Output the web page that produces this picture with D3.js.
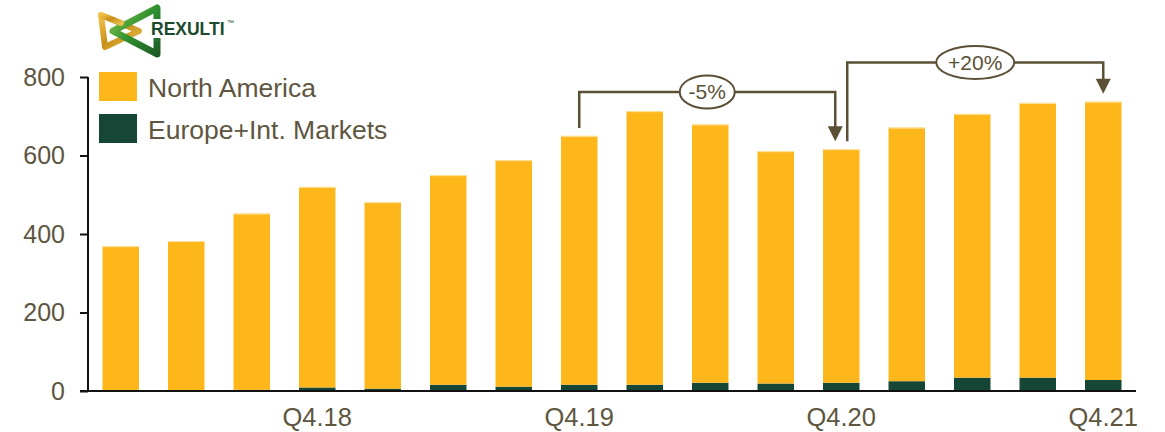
<!DOCTYPE html>
<html>
<head>
<meta charset="utf-8">
<script src="https://cdn.jsdelivr.net/npm/d3@7"></script>
<style>
  html, body { margin: 0; padding: 0; background: #fff; }
  svg { display: block; font-family: "Liberation Sans", Arial, sans-serif; }
</style>
</head>
<body>
<svg id="chart" width="1165" height="432"></svg>
<script>
// ---- data ----
const categories = ["Q1.18","Q2.18","Q3.18","Q4.18","Q1.19","Q2.19","Q3.19","Q4.19",
                    "Q1.20","Q2.20","Q3.20","Q4.20","Q1.21","Q2.21","Q3.21","Q4.21"];
const northAmerica = [367, 380, 449, 511, 475, 534, 577, 634, 697, 658, 592, 595, 646, 672, 700, 709];
const europeIntl   = [2, 2, 3, 9, 6, 16, 11, 16, 16, 21, 19, 21, 25, 34, 34, 28];
const seriesNames  = ["North America", "Europe+Int. Markets"];
const yTicks = [0, 200, 400, 600, 800];
const xTickLabels = ["Q4.18", "Q4.19", "Q4.20", "Q4.21"];
const annotations = [
  { from: "Q4.19", to: "Q4.20", label: "-5%",  level: 762 },
  { from: "Q4.20", to: "Q4.21", label: "+20%", level: 837 }
];

// ---- style ----
const colNA = "#FDB71A", colEU = "#164635", textCol = "#5E5640", annCol = "#5B5036";

const svg = d3.select("#chart");
const x = d3.scaleBand().domain(categories).range([88, 1136]).paddingInner(0.443).paddingOuter(0.2215);
const y = d3.scaleLinear().domain([0, 800]).range([391, 77]);

const stackData = categories.map((c, i) => ({ cat: c, eu: europeIntl[i], na: northAmerica[i] }));
const stacked = d3.stack().keys(["eu", "na"])(stackData);
const colors = { eu: colEU, na: colNA };

// bars
svg.append("g").selectAll("g").data(stacked).join("g")
  .attr("fill", d => colors[d.key])
  .selectAll("rect").data(d => d).join("rect")
  .attr("x", d => x(d.data.cat))
  .attr("width", x.bandwidth())
  .attr("y", d => y(d[1]))
  .attr("height", d => y(d[0]) - y(d[1]));

// NA light edge
svg.append("g").selectAll("line").data(stacked[1]).join("line")
  .attr("x1", d => x(d.data.cat)).attr("x2", d => x(d.data.cat) + x.bandwidth())
  .attr("y1", d => y(d[1]) + 0.5).attr("y2", d => y(d[1]) + 0.5)
  .attr("stroke", "#FDE3A0").attr("stroke-width", 1);

// y axis
const yAxis = d3.axisLeft(y).tickValues(yTicks).tickSize(8).tickPadding(15);
const gy = svg.append("g").attr("transform", "translate(88,0)").call(yAxis);
gy.select(".domain").attr("stroke", "#111").attr("stroke-width", 2).attr("d", "M0,77V391");
gy.selectAll(".tick line").attr("stroke", "#111").attr("stroke-width", 2);
gy.selectAll(".tick text").attr("fill", textCol).style("font-size", "25px")
  .style("font-family", "'Liberation Sans', Arial, sans-serif");

// x axis
const xAxis = d3.axisBottom(x).tickSize(0).tickPadding(17)
  .tickFormat(d => xTickLabels.includes(d) ? d : "");
const gx = svg.append("g").attr("transform", "translate(0,391)").call(xAxis);
gx.select(".domain").attr("stroke", "#111").attr("stroke-width", 2).attr("d", "M80,0H1136");
gx.selectAll(".tick text").attr("fill", textCol).style("font-size", "25.5px")
  .style("font-family", "'Liberation Sans', Arial, sans-serif");

// legend
const leg = svg.append("g");
[colNA, colEU].forEach((c, i) => {
  leg.append("rect").attr("x", 99).attr("y", 72 + i * 42).attr("width", 38).attr("height", 29).attr("fill", c);
  leg.append("text").attr("x", 148).attr("y", 97 + i * 42).text(seriesNames[i])
    .attr("fill", textCol).style("font-size", "26.5px");
});

// annotations
const total = c => { const i = categories.indexOf(c); return northAmerica[i] + europeIntl[i]; };
const cx = c => x(c) + x.bandwidth() / 2;
const ann = svg.append("g");
annotations.forEach(a => {
  const x0 = cx(a.from) + (annotations.some(b => b !== a && b.to === a.from) ? 6 : 0);
  const x1 = cx(a.to) - (annotations.some(b => b !== a && b.from === a.to) ? 6 : 0);
  const ly = y(a.level);
  const y0 = y(total(a.from)) - 8;
  const y1 = y(total(a.to)) - 8;
  ann.append("path")
    .attr("d", `M${x0},${y0}V${ly}H${x1}V${y1 - 14}`)
    .attr("fill", "none").attr("stroke", annCol).attr("stroke-width", 2.5);
  ann.append("path")
    .attr("d", `M${x1 - 7.5},${y1 - 15}L${x1 + 7.5},${y1 - 15}L${x1},${y1}Z`)
    .attr("fill", annCol);
  const mx = (x0 + x1) / 2;
  const rx = a.label.length > 3 ? 39 : 27.5;
  ann.append("ellipse").attr("cx", mx).attr("cy", ly).attr("rx", rx).attr("ry", 16.5)
    .attr("fill", "#fff").attr("stroke", annCol).attr("stroke-width", 2);
  ann.append("text").attr("x", mx).attr("y", ly + 7.5).attr("text-anchor", "middle")
    .attr("fill", annCol).style("font-size", "21px").text(a.label);
});

// logo
const defs = svg.append("defs");
const gGold = defs.append("linearGradient").attr("id", "gold").attr("x1", "0").attr("y1", "0").attr("x2", "1").attr("y2", "1");
gGold.append("stop").attr("offset", "0").attr("stop-color", "#F2C14A");
gGold.append("stop").attr("offset", "0.5").attr("stop-color", "#C8901A");
gGold.append("stop").attr("offset", "1").attr("stop-color", "#E8C050");
const gGreen = defs.append("linearGradient").attr("id", "green").attr("x1", "0").attr("y1", "0").attr("x2", "1").attr("y2", "1");
gGreen.append("stop").attr("offset", "0").attr("stop-color", "#8CCB4A");
gGreen.append("stop").attr("offset", "0.5").attr("stop-color", "#2F8F2F");
gGreen.append("stop").attr("offset", "1").attr("stop-color", "#1E5E26");
const logo = svg.append("g");
logo.append("path").attr("d", "M101,15 L139,31 L105,47 Z")
  .attr("fill", "none").attr("stroke", "url(#gold)").attr("stroke-width", 6).attr("stroke-linejoin", "round");
logo.append("path").attr("d", "M157,8 L157,54 L113,31 Z")
  .attr("fill", "none").attr("stroke", "url(#green)").attr("stroke-width", 7).attr("stroke-linejoin", "round");
logo.append("path").attr("d", "M101,15 L121,23")
  .attr("fill", "none").attr("stroke", "url(#gold)").attr("stroke-width", 6).attr("stroke-linecap", "round");
logo.append("rect").attr("x", 149).attr("y", 19).attr("width", 82).attr("height", 19).attr("fill", "#fff");
logo.append("text").attr("x", 151).attr("y", 34.5).text("REXULTI")
  .attr("fill", "#1B4A2C").style("font-size", "17.5px").style("font-weight", "bold");
logo.append("text").attr("x", 227).attr("y", 25).text("™")
  .attr("fill", "#1B4A2C").style("font-size", "7px");
</script>
</body>
</html>
